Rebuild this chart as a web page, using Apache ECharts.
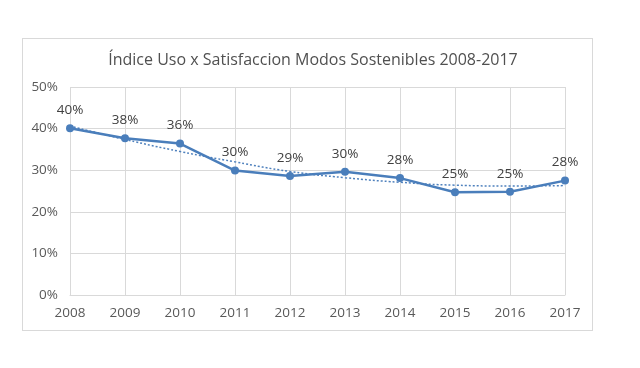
<!DOCTYPE html>
<html>
<head>
<meta charset="utf-8">
<script src="https://cdn.jsdelivr.net/npm/echarts@6/dist/echarts.min.js"></script>
<style>
html,body{margin:0;padding:0;background:#fff;}
#box{position:absolute;left:22px;top:38px;width:571px;height:293px;border:1px solid #d9d9d9;box-sizing:border-box;}
#chart{position:absolute;left:0;top:0;width:640px;height:368px;}
</style>
</head>
<body>
<div id="box"></div>
<div id="chart"></div>
<script>
var titleText = 'Índice Uso x Satisfaccion Modos Sostenibles 2008-2017';
var years = ['2008','2009','2010','2011','2012','2013','2014','2015','2016','2017'];
var indice = [40.1, 37.7, 36.4, 29.9, 28.6, 29.6, 28.1, 24.7, 24.8, 27.5];
var tendencia = [40.6, 37.4, 34.5, 32.0, 29.7, 28.2, 27.1, 26.4, 26.2, 26.3];
var yTicks = [0, 10, 20, 30, 40, 50];

var chart = echarts.init(document.getElementById('chart'));
var font = '"Open Sans", sans-serif';
chart.setOption({
  animation: false,
  title: {
    text: titleText,
    left: 308, top: 47, textAlign: 'center',
    textStyle: {fontFamily: font, fontSize: 16, fontWeight: 'normal', color: '#505050'}
  },
  grid: {left: 70, right: 75, top: 87, bottom: 73, containLabel: false},
  xAxis: {
    type: 'category', data: years, boundaryGap: false,
    axisLine: {lineStyle: {color: '#d9d9d9'}},
    axisTick: {show: false},
    axisLabel: {color: '#595959', fontFamily: font, fontSize: 13.5, margin: 11},
    splitLine: {show: true, lineStyle: {color: '#d9d9d9', width: 1}}
  },
  yAxis: {
    type: 'value', min: yTicks[0], max: yTicks[yTicks.length-1], interval: 10,
    axisLine: {show: false}, axisTick: {show: false},
    axisLabel: {color: '#595959', fontFamily: font, fontSize: 13.5, margin: 12,
      formatter: function(v){ return v + '%'; }},
    splitLine: {lineStyle: {color: '#d9d9d9', width: 1}}
  },
  series: [
    {
      type: 'line', data: tendencia, smooth: true, symbol: 'none', z: 1,
      lineStyle: {color: '#4F81BD', width: 1.5, type: [2, 2]}
    },
    {
      type: 'line', data: indice, symbol: 'circle', symbolSize: 8, z: 3,
      lineStyle: {color: '#4A7EBB', width: 2.5},
      itemStyle: {color: '#4A7EBB'},
      label: {show: true, position: 'top', distance: 7, color: '#404040',
        fontFamily: font, fontSize: 13.5,
        formatter: function(p){ return Math.round(p.value) + '%'; }}
    }
  ]
});
</script>
</body>
</html>
